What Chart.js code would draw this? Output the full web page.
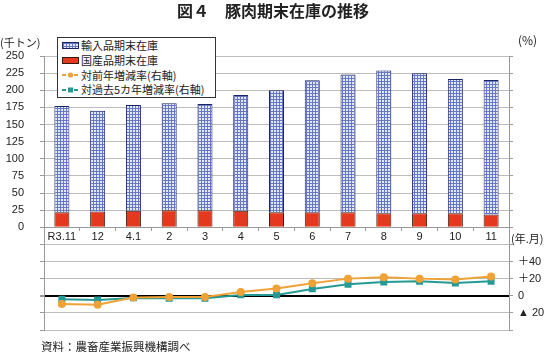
<!DOCTYPE html>
<html>
<head>
<meta charset="utf-8">
<script src="https://cdn.jsdelivr.net/npm/chart.js@4/dist/chart.umd.min.js"></script>
<style>
  html, body { margin:0; padding:0; background:#fff; }
  #wrap { position:relative; width:550px; height:355px; overflow:hidden; font-family:'Noto Sans CJK JP','Liberation Sans',sans-serif; color:#222; }
  #c { position:absolute; left:0; top:0; }
  .t { position:absolute; white-space:nowrap; }
  #legend { position:absolute; left:57px; top:37px; width:157px; height:59px; border:1px solid #333; background:#fff; box-sizing:content-box; }
  .row { display:flex; align-items:center; height:14.75px; font-size:11px; line-height:14.75px; }
  .sym { width:17px; margin-left:4px; margin-right:2px; display:flex; align-items:center; justify-content:center; }
</style>
</head>
<body>
<div id="wrap">
  <canvas id="c" width="550" height="355"></canvas>
  <div class="t" id="title" style="left:0;width:546px;top:1px;text-align:center;font-weight:bold;font-size:16px;line-height:18px;"></div>
  <div class="t" id="unitL" style="left:0;top:35px;font-size:11px;line-height:14px;"></div>
  <div class="t" id="unitR" style="left:518px;top:33px;font-size:12px;line-height:14px;"></div>
  <div class="t" id="unitX" style="left:511px;top:231px;font-size:11px;line-height:14px;"></div>
  <div class="t" id="source" style="left:41px;top:339px;font-size:11.5px;line-height:14px;"></div>
  <div id="legend"></div>
</div>
<script>
// ---- data ----
const titleText = '図４　豚肉期末在庫の推移';
const unitLeft = '(千トン)';
const unitRight = '(%)';
const unitX = '(年.月)';
const sourceText = '資料：農畜産業振興機構調べ';
const categories = ['R3.11','12','4.1','2','3','4','5','6','7','8','9','10','11'];
const seriesNames = ['輸入品期末在庫','国産品期末在庫','対前年増減率(右軸)','対過去5カ年増減率(右軸)'];
const importedStock = [155, 147, 154.5, 156, 155, 169, 178, 192.5, 201, 208.5, 204.5, 196, 196.5];
const domesticStock = [22, 23, 24, 25, 25, 24, 22, 22, 22, 20.5, 20.5, 20.5, 18.5];
const yoyRate = [-9.5, -10.5, -2, -1.5, -1.5, 4.5, 8.5, 14.5, 20, 21.5, 20, 19, 22.5];
const fiveYearRate = [-4, -5, -2.5, -3, -3, 1, 1, 8, 13.5, 16, 17, 15, 17];
const rightTickLabels = { '40': '＋40', '20': '＋20', '0': '0', '-20': '▲ 20' };

// ---- styles ----
const C_ORANGE = '#f0a236';
const C_TEAL = '#259a95';
const C_RED = '#e5391f';
const C_GRID = '#bdbdbd';
const C_AXIS = '#9a9a9a';
const C_PAT_BG = '#e4e9f8';
const C_PAT_LINE = '#6677c6';
const tickFont = { family: "'Liberation Sans','Noto Sans CJK JP',sans-serif", size: 11 };

function pattern() {
  const c = document.createElement('canvas');
  c.width = 3; c.height = 3;
  const g = c.getContext('2d');
  g.fillStyle = C_PAT_BG; g.fillRect(0, 0, 3, 3);
  g.fillStyle = C_PAT_LINE; g.fillRect(0, 0, 3, 1); g.fillRect(0, 0, 1, 3);
  return document.getElementById('c').getContext('2d').createPattern(c, 'repeat');
}

// ---- text overlays ----
document.getElementById('title').textContent = titleText;
document.getElementById('unitL').textContent = unitLeft;
document.getElementById('unitR').textContent = unitRight;
document.getElementById('unitX').textContent = unitX;
document.getElementById('source').textContent = sourceText;

const symbols = [
  '<div style="width:16px;height:5px;border:1px solid #1b2566;background-color:' + C_PAT_BG + ';background-image:linear-gradient(' + C_PAT_LINE + ' 1px,transparent 1px),linear-gradient(90deg,' + C_PAT_LINE + ' 1px,transparent 1px);background-size:3px 3px;"></div>',
  '<div style="width:16px;height:5px;border:1px solid #3a1a10;background:' + C_RED + ';"></div>',
  '<svg width="17" height="8"><line x1="0" y1="4" x2="17" y2="4" stroke="' + C_ORANGE + '" stroke-width="2" stroke-dasharray="4,2"/><circle cx="8.5" cy="4" r="2.6" fill="' + C_ORANGE + '"/></svg>',
  '<svg width="17" height="8"><line x1="0" y1="4" x2="17" y2="4" stroke="' + C_TEAL + '" stroke-width="2" stroke-dasharray="4,2"/><rect x="6" y="1.5" width="5" height="5" fill="' + C_TEAL + '"/></svg>'
];
document.getElementById('legend').innerHTML = seriesNames.map((n, i) =>
  '<div class="row"><div class="sym">' + symbols[i] + '</div><span>' + n + '</span></div>').join('');

// ---- chart ----
new Chart(document.getElementById('c'), {
  data: {
    labels: categories,
    datasets: [
      { type: 'bar', label: seriesNames[1], data: domesticStock, backgroundColor: C_RED, borderColor: '#3a1a10', borderWidth: 1, stack: 's', yAxisID: 'y', order: 2, barPercentage: 0.42, categoryPercentage: 1 },
      { type: 'bar', label: seriesNames[0], data: importedStock, backgroundColor: pattern(), borderColor: '#1b2566', borderWidth: 1, stack: 's', yAxisID: 'y', order: 2, barPercentage: 0.42, categoryPercentage: 1 },
      { type: 'line', label: seriesNames[2], data: yoyRate, borderColor: C_ORANGE, backgroundColor: C_ORANGE, borderWidth: 2, pointStyle: 'circle', pointRadius: 3, yAxisID: 'y2', order: 0, tension: 0 },
      { type: 'line', label: seriesNames[3], data: fiveYearRate, borderColor: C_TEAL, backgroundColor: C_TEAL, borderWidth: 2, pointStyle: 'rect', pointRadius: 3.5, yAxisID: 'y2', order: 1, tension: 0 }
    ]
  },
  options: {
    responsive: false,
    devicePixelRatio: 1,
    animation: false,
    layout: { padding: { top: 56, bottom: 25, left: 0, right: 0 } },
    plugins: { legend: { display: false }, tooltip: { enabled: false }, title: { display: false } },
    scales: {
      x: {
        type: 'category',
        position: { y: 0 },
        offset: true,
        grid: { display: true, drawOnChartArea: false, drawTicks: true, tickLength: 3, color: C_AXIS, offset: true },
        border: { display: true, color: C_AXIS },
        ticks: { font: tickFont, color: '#222', padding: 0, maxRotation: 0, autoSkip: false }
      },
      y: {
        position: 'left',
        min: -150, max: 250,
        afterFit: s => { s.width = 44; },
        ticks: { stepSize: 25, font: tickFont, color: '#222', padding: 16, callback: v => (v >= 0 ? v : '') },
        grid: {
          color: ctx => (ctx.tick && ctx.tick.value === -100 ? '#000' : C_GRID),
          lineWidth: ctx => (ctx.tick && ctx.tick.value === -100 ? 2 : 1),
          tickColor: C_AXIS, tickLength: 4
        },
        border: { display: true, color: C_AXIS }
      },
      y2: {
        position: 'right',
        min: -40, max: 280,
        afterFit: s => { s.width = 41; },
        ticks: { stepSize: 20, font: tickFont, color: '#222', padding: 5, callback: v => (rightTickLabels[String(v)] || '') },
        grid: { drawOnChartArea: false, drawTicks: true, tickLength: 4, color: C_AXIS },
        border: { display: true, color: C_AXIS }
      }
    }
  }
});
</script>
</body>
</html>
